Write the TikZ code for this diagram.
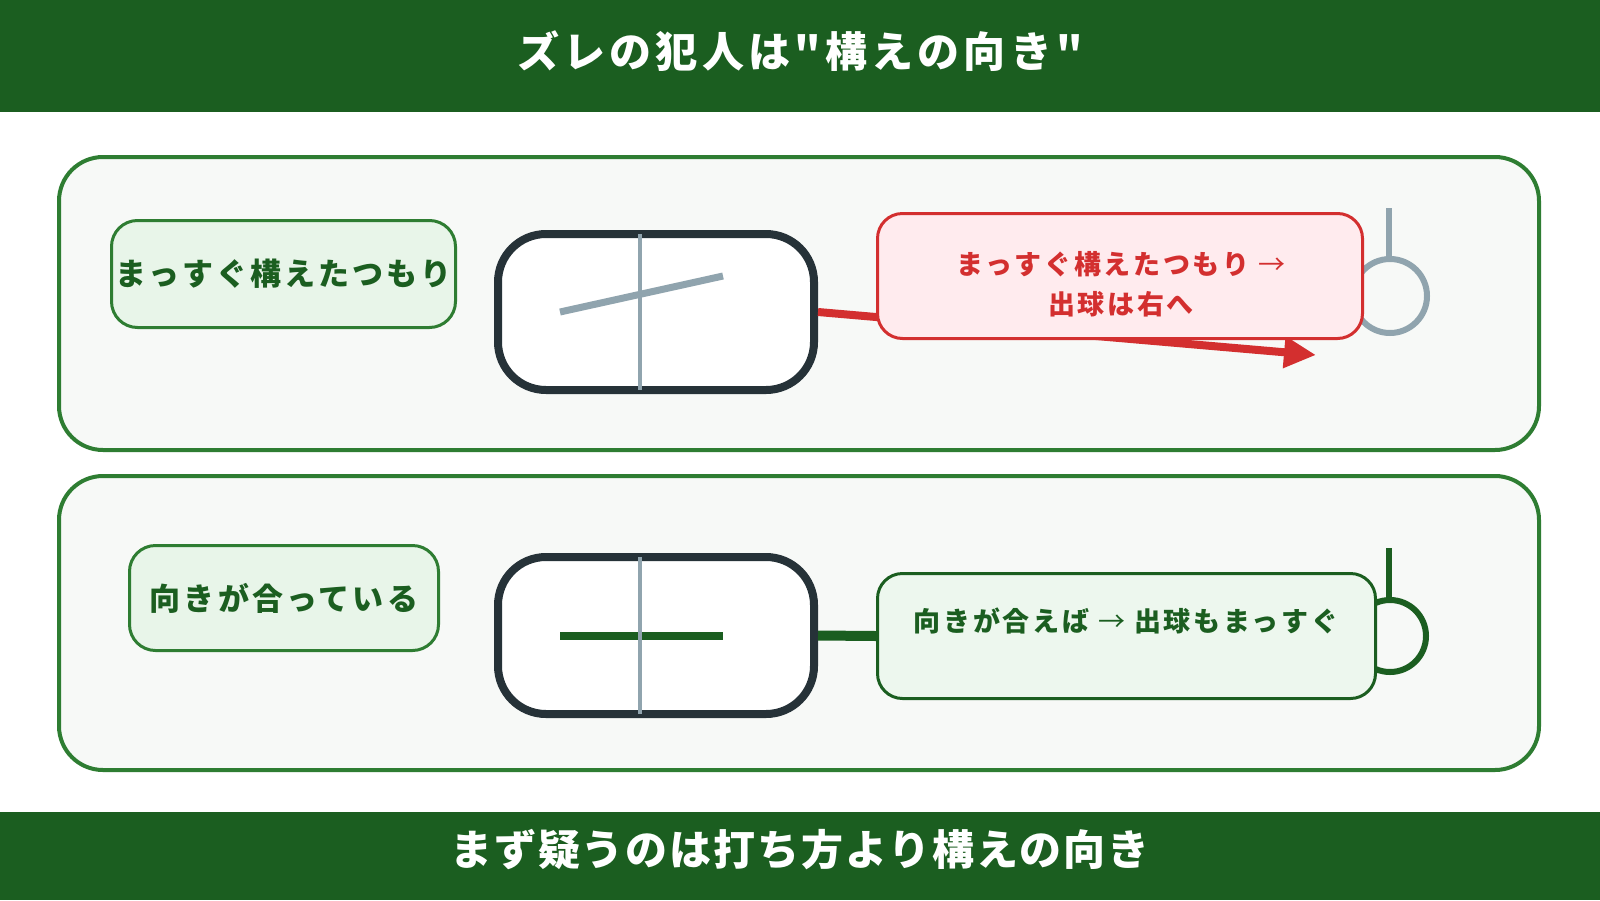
\documentclass[tikz,border=0pt]{standalone}
\usepackage{fontspec}
\newfontfamily\cjk{Noto Sans CJK JP}
\newfontfamily\cjkwide{Noto Sans CJK JP}[LetterSpace=10]
\newfontfamily\cjkfoot{Noto Sans CJK JP}[LetterSpace=4.5]
\usetikzlibrary{arrows.meta}

\definecolor{darkgreen}{HTML}{1B5E20}
\definecolor{midgreen}{HTML}{2E7D32}
\definecolor{panelbg}{HTML}{F7F9F7}
\definecolor{labelbg}{HTML}{E8F5E9}
\definecolor{okbg}{HTML}{EDF7EE}
\definecolor{devline}{HTML}{263238}
\definecolor{aimgray}{HTML}{90A4AE}
\definecolor{badred}{HTML}{D32F2F}
\definecolor{badbg}{HTML}{FFEBEE}

\newcommand{\thinarrow}{{\cjk\mdseries →}}

\tikzset{
  band/.style={fill=darkgreen, draw=none},
  bandtext/.style={text=white, font=\cjkwide\bfseries\fontsize{42}{50}\selectfont},
  panel/.style={draw=midgreen, fill=panelbg, line width=4pt, rounded corners=44pt,
    minimum width=1480pt},
  tag/.style={draw=midgreen, fill=labelbg, line width=3pt, rounded corners=26pt,
    text=darkgreen, font=\cjkwide\bfseries\fontsize{31}{36}\selectfont, inner sep=0pt},
  device/.style={draw=devline, fill=white, line width=8pt, rounded corners=48pt,
    minimum width=316pt},
  callout/.style={line width=3pt, rounded corners=25pt, minimum height=125pt},
  msg/.style={font=\cjkwide\bfseries\fontsize{27}{40}\selectfont, align=center},
  ring/.style={line width=6pt},
}

\begin{document}
\begin{tikzpicture}[x=1pt,y=-1pt]
  \useasboundingbox (0,0) rectangle (1600,900);
  \fill[white] (0,0) rectangle (1600,900);

  \fill[band] (0,0) rectangle (1600,112);
  \node (title) [bandtext] at (800,51) {ズレの犯人は"構えの向き"};
  \fill[band] (0,812) rectangle (1600,900);
  \node (footer) [bandtext, font=\cjkfoot\bfseries\fontsize{42}{50}\selectfont] at (800,850) {まず疑うのは打ち方より構えの向き};

  % top: aimed straight, ball goes right
  \node (panelA) [panel, minimum height=293pt] at (799,303.5) {};
  \node (tagA) [tag, minimum width=344pt, minimum height=107pt] at (283.5,274) {まっすぐ構えたつもり};
  \node (devA) [device, minimum height=156pt] at (656,312) {};
  \draw[aimgray, line width=7pt] (560,312) -- (723,276);
  \draw[aimgray, line width=4pt] (640,234) -- (640,390);

  \coordinate (missA) at (1316,355);
  \draw[badred, line width=8pt, -{Triangle[length=32pt, width=30pt]}] (devA.east) -- (missA);

  \draw[aimgray, ring] (1389,208) -- (1389,259);
  \draw[aimgray, ring] (1390,296) circle[radius=37];

  \node (badbox) [callout, draw=badred, fill=badbg, minimum width=485pt] at (1120,276) {};
  \node (badmsg) [msg, text=badred] at (1121,284) {まっすぐ構えたつもり \thinarrow\\出球は右へ};

  % bottom: direction matches
  \node (panelB) [panel, minimum height=294pt] at (799,623) {};
  \node (tagB) [tag, minimum width=309pt, minimum height=105pt] at (284,598) {向きが合っている};
  \node (devB) [device, minimum height=157pt] at (656,635.5) {};
  \draw[darkgreen, line width=8pt] (560,636) -- (723,636);
  \draw[aimgray, line width=4pt] (640,557) -- (640,714);

  \draw[darkgreen, ring] (1389,548) -- (1389,600);
  \draw[darkgreen, ring] (1390,636) circle[radius=36];

  \node (goodbox) [callout, draw=darkgreen, fill=okbg, minimum width=498pt] at (1126.5,636) {};
  \draw[darkgreen, line width=10pt] (devB.east) -- (goodbox.west);
  \node (goodmsg) [msg, text=darkgreen] at (1126,621) {向きが合えば \thinarrow{} 出球もまっすぐ};

\end{tikzpicture}
\end{document}
